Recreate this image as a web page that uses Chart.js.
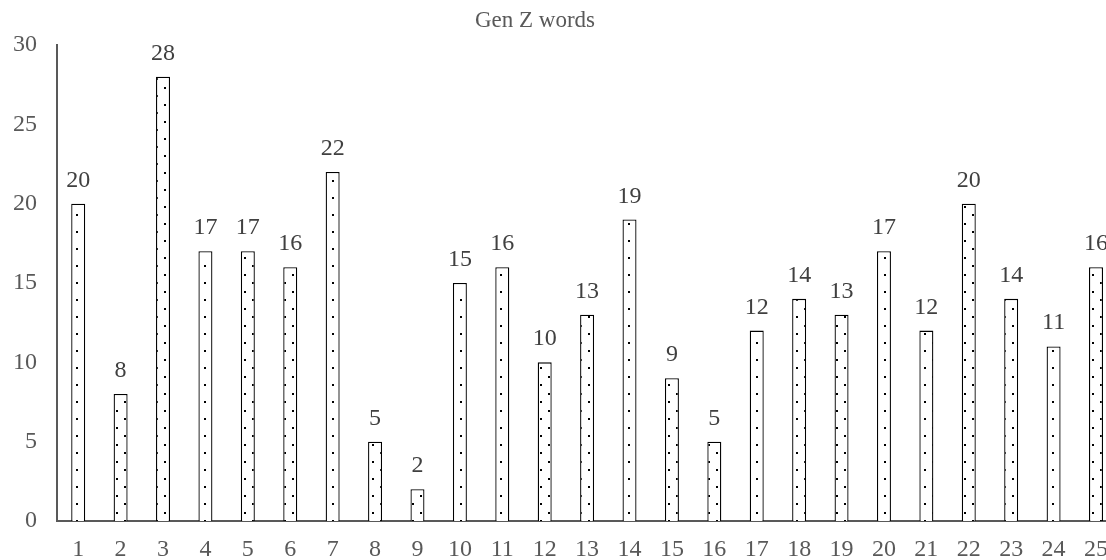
<!DOCTYPE html>
<html>
<head>
<meta charset="utf-8">
<script src="https://cdn.jsdelivr.net/npm/chart.js@4/dist/chart.umd.min.js"></script>
<style>
  html, body { margin: 0; padding: 0; background: #fff; overflow: hidden; }
  #wrap { width: 1122px; height: 560px; position: relative; }
</style>
</head>
<body>
<div id="wrap"><canvas id="c"></canvas></div>
<script>
const title = "Gen Z words";
const categories = ["1","2","3","4","5","6","7","8","9","10","11","12","13","14","15","16","17","18","19","20","21","22","23","24","25"];
const values = [20, 8, 28, 17, 17, 16, 22, 5, 2, 15, 16, 10, 13, 19, 9, 5, 12, 14, 13, 17, 12, 20, 14, 11, 16];
const yTicks = [0, 5, 10, 15, 20, 25, 30];

const FONT = "'Liberation Serif', 'Times New Roman', serif";

function makePattern() {
  const t = document.createElement('canvas');
  t.width = 16; t.height = 34;
  const g = t.getContext('2d');
  g.fillStyle = '#ffffff';
  g.fillRect(0, 0, 16, 34);
  g.fillStyle = '#000000';
  g.fillRect(4, 2, 2, 2);
  g.fillRect(4, 19, 2, 2);
  g.fillRect(12, 10, 2, 2);
  g.fillRect(12, 27, 2, 2);
  const ctx = document.getElementById('c').getContext('2d');
  return ctx.createPattern(t, 'repeat');
}

const labelPlugin = {
  id: 'valueLabels',
  afterDatasetsDraw(chart) {
    const ctx = chart.ctx;
    const meta = chart.getDatasetMeta(0);
    ctx.save();
    ctx.font = "24px " + FONT;
    ctx.fillStyle = '#404040';
    ctx.textAlign = 'center';
    ctx.textBaseline = 'alphabetic';
    meta.data.forEach((bar, i) => {
      ctx.fillText(String(values[i]), bar.x, bar.y - 17);
    });
    ctx.restore();
  }
};

const titlePlugin = {
  id: 'offsetTitle',
  afterDraw(chart) {
    const ctx = chart.ctx;
    ctx.save();
    ctx.font = "23px " + FONT;
    ctx.fillStyle = '#595959';
    ctx.textAlign = 'center';
    ctx.textBaseline = 'alphabetic';
    ctx.fillText(title, 535, 27);
    ctx.restore();
  }
};

new Chart(document.getElementById('c'), {
  type: 'bar',
  data: {
    labels: categories,
    datasets: [{
      data: values,
      backgroundColor: makePattern(),
      borderColor: '#000000',
      borderWidth: 1.3,
      barPercentage: 0.33,
      categoryPercentage: 1.0
    }]
  },
  options: {
    responsive: true,
    maintainAspectRatio: false,
    animation: false,
    layout: { padding: { left: 0, right: 0, top: 45, bottom: 0 } },
    plugins: {
      legend: { display: false },
      tooltip: { enabled: false },
      title: { display: false }
    },
    scales: {
      x: {
        grid: { display: false, drawTicks: false },
        border: { display: true, color: '#595959', width: 2 },
        ticks: {
          color: '#595959',
          font: { family: FONT, size: 24 },
          padding: 14,
          maxRotation: 0,
          autoSkip: false
        },
        afterFit(scale) { scale.height = 39; }
      },
      y: {
        min: 0,
        max: 30,
        grid: { display: false, drawTicks: false },
        border: { display: true, color: '#595959', width: 2 },
        afterBuildTicks(scale) { scale.ticks = yTicks.map(v => ({ value: v })); },
        ticks: {
          color: '#595959',
          font: { family: FONT, size: 24 },
          padding: 20
        },
        afterFit(scale) { scale.width = 57; }
      }
    }
  },
  plugins: [labelPlugin, titlePlugin]
});
</script>
</body>
</html>
